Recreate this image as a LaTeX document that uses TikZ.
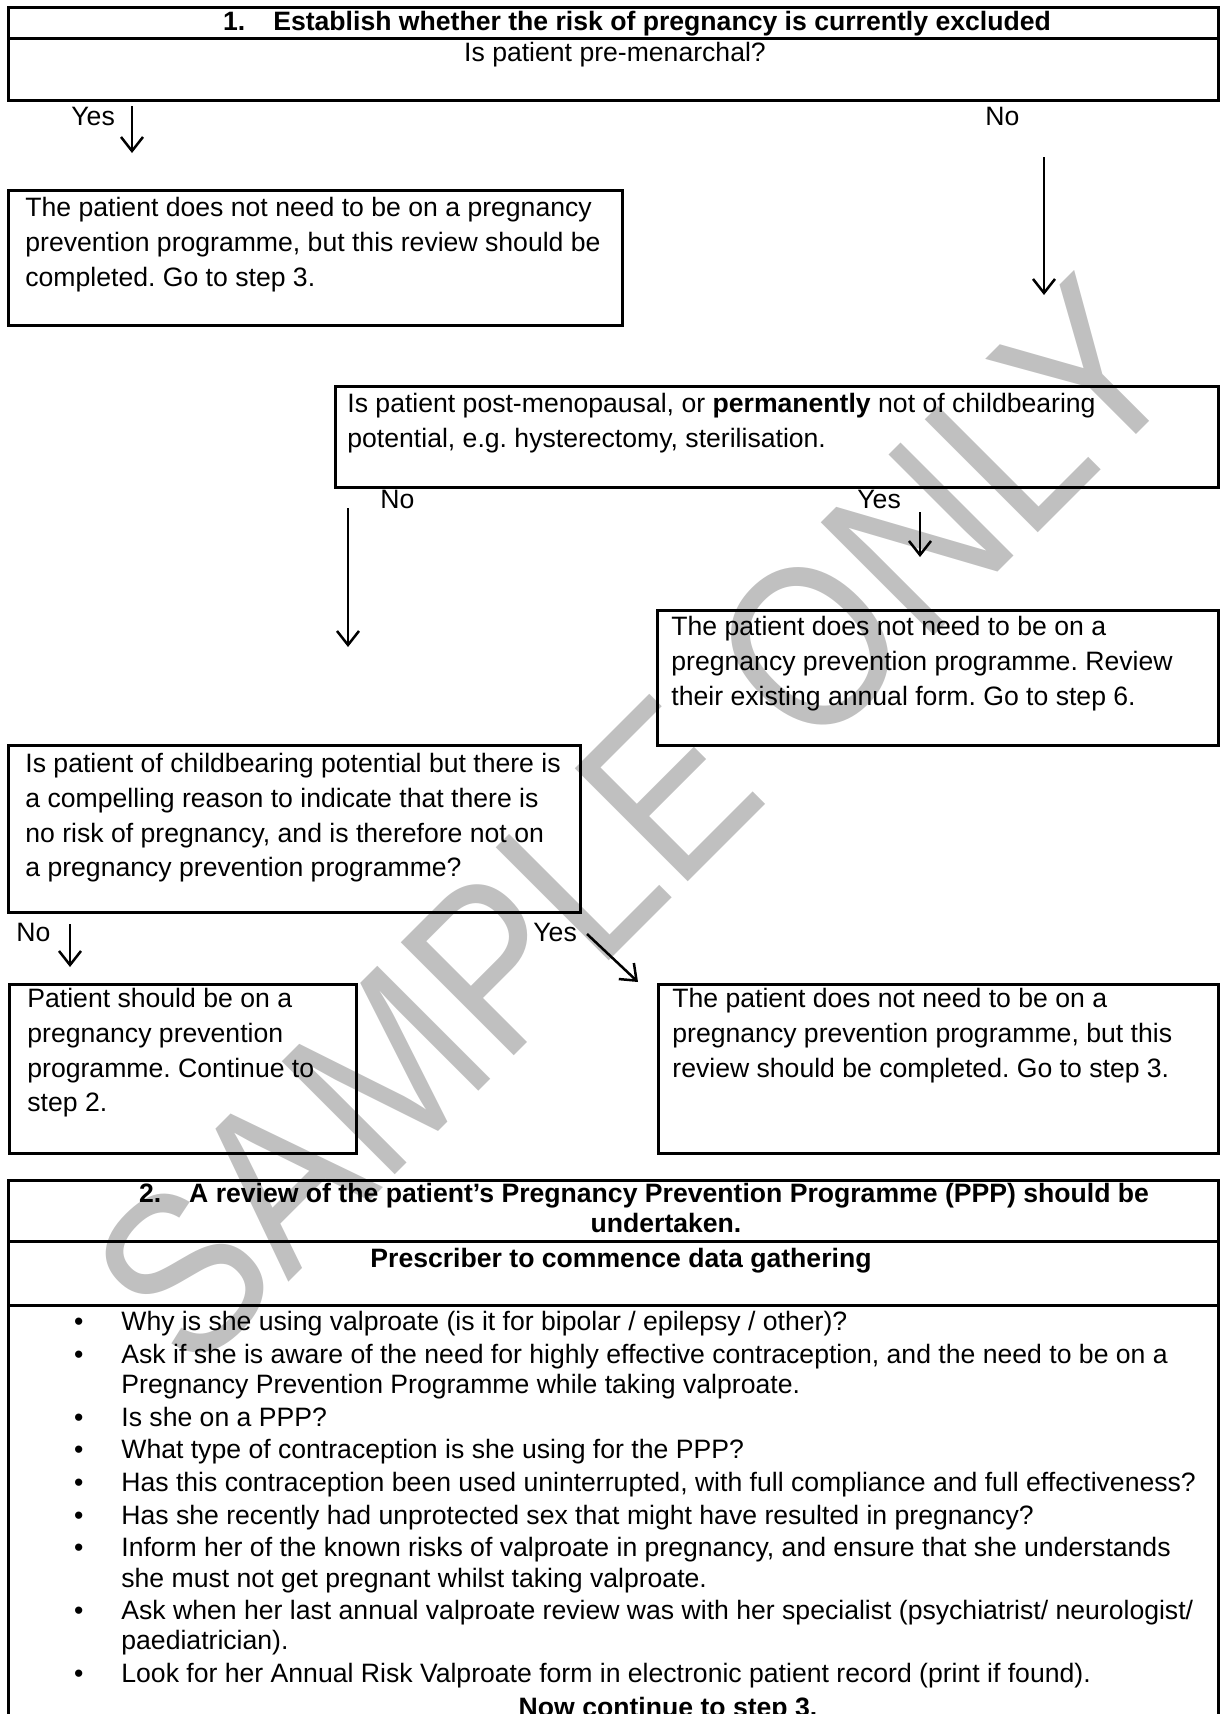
\documentclass[tikz,border=0pt]{standalone}
\usepackage{fontspec}
\setmainfont{Liberation Sans}
\usepackage{tikz}
\usetikzlibrary{arrows.meta,fit,positioning}
\definecolor{wmgray}{HTML}{C0C0C0}
\newcommand{\bodyfont}{\fontsize{13.3pt}{17.35pt}\selectfont}
\newcommand{\headfont}{\fontsize{13.3pt}{15pt}\selectfont\bfseries}
\newcommand{\listfont}{\fontsize{13.3pt}{15.1pt}\selectfont}
\newcommand{\tstrut}{\rule{0pt}{10.5pt}}
\frenchspacing

\begin{document}
\begin{tikzpicture}[x=0.5pt,y=-0.5pt,>={Straight Barb[length=7pt,width=11pt]}]
    \tikzstyle{flowbox}=[draw,line width=1.5pt,inner sep=0pt]
    \tikzstyle{boxtext}=[anchor=north west,inner sep=0pt,align=left,font=\bodyfont,execute at begin node=\tstrut]
    \tikzstyle{headline}=[anchor=base,inner sep=0pt,font=\headfont]
    \tikzstyle{choice}=[anchor=base west,inner sep=0pt,font=\bodyfont]
    \tikzstyle{arr}=[->,line width=1.25pt]
    \useasboundingbox (0,0) rectangle (1220,1714);
    % watermark, behind everything else
    \node[text=wmgray,font=\fontsize{101pt}{101pt}\selectfont,rotate=45,yscale=1.15,inner sep=0pt] (wmark) at (635,822) {SAMPLE ONLY};
    % step 1
    \node[flowbox,fit={(8,7) (1218,38)}] (step1) {};
    \node[flowbox,fit={(8,38) (1218,100)}] (premen) {};
    \node[headline] (step1-t) at (637,30) {1.\hspace{14pt}Establish whether the risk of pregnancy is currently excluded};
    \node[anchor=base,inner sep=0pt,font=\bodyfont] (premen-t) at (615,61) {Is patient pre-menarchal?};
    \node[flowbox,fit={(8,190) (622,325)}] (child) {};
    \node[boxtext] (child-t) at (25,197) {The patient does not need to be on a pregnancy\\prevention programme, but this review should be\\completed. Go to step 3.};
    \node[flowbox,fit={(335,386) (1218,487)}] (postmeno) {};
    \node[boxtext] (postmeno-t) at (347,393) {Is patient post-menopausal, or \textbf{permanently} not of childbearing\\potential, e.g. hysterectomy, sterilisation.};
    \node[flowbox,fit={(657,610) (1218,745)}] (annual) {};
    \node[boxtext] (annual-t) at (671,616) {The patient does not need to be on a\\pregnancy prevention programme. Review\\their existing annual form. Go to step 6.};
    \node[flowbox,fit={(8,745) (580,912)}] (reason) {};
    \node[boxtext] (reason-t) at (25,753) {Is patient of childbearing potential but there is\\a compelling reason to indicate that there is\\no risk of pregnancy, and is therefore not on\\a pregnancy prevention programme?};
    \node[flowbox,fit={(9,984) (356,1153)}] (needppp) {};
    \node[boxtext] (needppp-t) at (27,988) {Patient should be on a\\pregnancy prevention\\programme. Continue to\\step 2.};
    \node[flowbox,fit={(658,984) (1218,1153)}] (noppp) {};
    \node[boxtext] (noppp-t) at (672,988) {The patient does not need to be on a\\pregnancy prevention programme, but this\\review\ should be completed. Go to step 3.};
    % yes / no answers
    \node[choice] (yes1) at (71,125) {Yes};
    \node[choice] (no1) at (985,125) {No};
    \node[choice] (no2) at (380,508) {No};
    \node[choice] (yes2) at (857,508) {Yes};
    \node[choice] (no3) at (16,941) {No};
    \node[choice] (yes3) at (533,941) {Yes};
    \coordinate (yes1a) at (132,106);
    \coordinate (yes1b) at (132,153);
    \coordinate (no1a) at (1044,157);
    \coordinate (no1b) at (1044,295);
    \coordinate (no2a) at (348,508);
    \coordinate (no2b) at (348,647);
    \coordinate (yes2a) at (920,512);
    \coordinate (yes2b) at (920,557);
    \coordinate (no3a) at (70,924);
    \coordinate (no3b) at (70,967);
    \coordinate (yes3a) at (587,934);
    \coordinate (yes3b) at (638,982);
    \draw[arr] (yes1a) -- (yes1b);
    \draw[arr] (no1a) -- (no1b);
    \draw[arr] (no2a) -- (no2b);
    \draw[arr] (yes2a) -- (yes2b);
    \draw[arr] (no3a) -- (no3b);
    \draw[arr] (yes3a) -- (yes3b);
    % step 2
    \node[flowbox,fit={(8,1180) (1218,1241)}] (step2) {};
    \node[flowbox,fit={(8,1241) (1218,1305)}] (gather) {};
    \node[flowbox,fit={(8,1305) (1218,1760)}] (checks) {};
    \node[anchor=north,inner sep=0pt,align=center,font=\headfont,execute at begin node=\tstrut] (step2-t) at (644,1183) {2.\hspace{14pt}A review of the patient's Pregnancy Prevention Programme (PPP) should be\\\hspace*{22pt}undertaken.};
    \node[headline] (gather-t) at (621,1267) {Prescriber to commence data gathering};
    \node[anchor=north west,inner sep=0pt,font=\listfont] (checks-t) at (71,1309) {%
      \begin{minipage}[t]{600pt}
      \begin{list}{\textbullet}{\setlength{\leftmargin}{25pt}\setlength{\labelsep}{19pt}\setlength{\labelwidth}{6pt}%
        \setlength{\itemsep}{1.25pt}\setlength{\parsep}{0pt}\setlength{\topsep}{0pt}\setlength{\partopsep}{0pt}\raggedright}
      \item \tstrut Why is she using valproate (is it for bipolar / epilepsy / other)?
      \item Ask if she is aware of the need for highly effective contraception, and the need to be on a\newline Pregnancy Prevention Programme while taking valproate.
      \item Is she on a PPP?
      \item What type of contraception is she using for the PPP?
      \item Has this contraception been used uninterrupted, with full compliance and full effectiveness?
      \item Has she recently had unprotected sex that might have resulted in pregnancy?
      \item Inform her of the known risks of valproate in pregnancy, and ensure that she understands\newline she must not get pregnant whilst taking valproate.
      \item Ask when her last annual valproate review was with her specialist (psychiatrist/ neurologist/\newline paediatrician).
      \item Look for her Annual Risk Valproate form in electronic patient record (print if found).
      \end{list}
      \end{minipage}};
    \node[headline] (next-t) at (668,1716) {Now continue to step 3.};
  \end{tikzpicture}
\end{document}
